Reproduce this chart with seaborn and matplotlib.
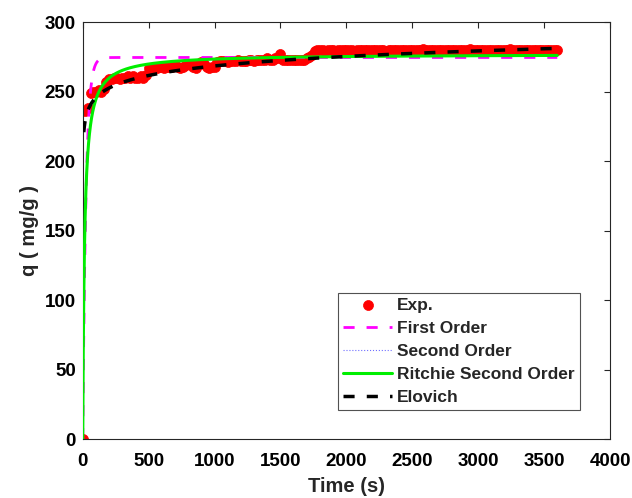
import numpy as np
import pandas as pd
import matplotlib
matplotlib.use("Agg")
import matplotlib.pyplot as plt
import seaborn as sns

# Experimental uptake, sampled every 20 s
time_s = np.arange(0, 3601, 20)
q_exp = [
    0, 236, 238, 249, 250, 250, 251, 250, 252, 257,      # 0-180 s
    259, 259, 260, 260, 259, 260, 260, 261, 260, 261,    # 200-380 s
    260, 260, 261, 260, 262, 267, 267, 268, 267, 268,    # 400-580 s
    268, 267, 268, 268, 268, 269, 268, 267, 268, 269,    # 600-780 s
    270, 270, 268, 267, 270, 271, 270, 268, 267, 268,    # 800-980 s
    268, 271, 272, 272, 272, 271, 272, 272, 272, 273,    # 1000-1180 s
    272, 272, 272, 273, 273, 272, 273, 273, 273, 273,    # 1200-1380 s
    274, 273, 273, 274, 274, 277, 273, 273, 273, 273,    # 1400-1580 s
    273, 273, 273, 273, 273, 274, 275, 276, 279, 280,    # 1600-1780 s
    280, 280, 279.5, 280, 280, 280, 279.5, 280, 280, 280,
    280, 280, 280, 279.5, 280, 280, 280, 280, 280, 280,
    280, 280, 280, 280, 280, 279.5, 280, 280, 280, 280,
    280, 280, 280, 280, 280, 280, 280, 280, 280, 280.5,
    280, 280, 280, 280, 280, 280, 280, 280, 280, 280,
    280, 280, 280, 280, 280, 280, 280, 280.5, 280, 280,
    280, 280, 280, 280, 280, 280, 280, 280, 280, 280,
    280, 280, 280.5, 280, 280, 280, 280, 280, 280, 280,
    280, 280, 280, 280, 280, 280, 280, 280, 280, 280,
    280,
]

# Fitted kinetic model parameters
qe_first, k_first = 274.5, 0.041            # pseudo-first order
qe_second, k_second = 277.0, 0.075 / 277.0  # pseudo-second order (k2, g/mg/s)
qe_ritchie, k_ritchie = 277.0, 0.075        # Ritchie second order
elovich_a, elovich_b = 200.3, 9.86          # q = a + b ln t

t_fit = np.linspace(0, 3600, 3601)
q_first = qe_first * (1 - np.exp(-k_first * t_fit))
q_second = qe_second ** 2 * k_second * t_fit / (1 + qe_second * k_second * t_fit)
q_ritchie = qe_ritchie * k_ritchie * t_fit / (1 + k_ritchie * t_fit)
t_elov = t_fit[t_fit >= 8]
q_elovich = elovich_a + elovich_b * np.log(t_elov)

df_exp = pd.DataFrame({"t": time_s, "q": q_exp})

sns.set_theme(style="white")
plt.rcParams["font.family"] = ["Liberation Sans", "DejaVu Sans"]
plt.rcParams["font.weight"] = "bold"

fig = plt.figure(figsize=(6.32, 4.98), dpi=100)
ax = fig.add_axes([0.1309, 0.1179, 0.8343, 0.8379])

sns.scatterplot(data=df_exp, x="t", y="q", ax=ax, color="#ff0000",
                edgecolor="#ff0000", s=52, linewidth=0.5, label="Exp.", zorder=2)
sns.lineplot(x=t_fit, y=q_first, ax=ax, color="#ff00ff", linewidth=2.0,
             linestyle=(0, (4, 4.3)), label="First Order", zorder=3)
sns.lineplot(x=t_fit, y=q_second, ax=ax, color="#7070ff", linewidth=0.8,
             linestyle=":", label="Second Order", zorder=3)
sns.lineplot(x=t_fit, y=q_ritchie, ax=ax, color="#00ee00", linewidth=2.2,
             label="Ritchie Second Order", zorder=4)
sns.lineplot(x=t_elov, y=q_elovich, ax=ax, color="black", linewidth=2.5,
             linestyle=(0, (3.2, 3.5)), label="Elovich", zorder=5)

ax.set_xlim(0, 4000)
ax.set_ylim(0, 300)
ax.set_xticks(np.arange(0, 4001, 500))
ax.set_yticks(np.arange(0, 301, 50))
ax.tick_params(direction="in", length=4.3, width=0.8, colors="#262626",
               labelcolor="black", labelsize=13.5,
               top=True, right=True)
ax.tick_params(axis="x", pad=10)
ax.tick_params(axis="y", pad=5)
for lbl in ax.get_xticklabels() + ax.get_yticklabels():
    lbl.set_fontweight("bold")
for sp in ax.spines.values():
    sp.set_color("#262626")
    sp.set_linewidth(0.8)

ax.set_xlabel("Time (s)", fontsize=14.5, fontweight="bold", labelpad=5)
ax.set_ylabel("q ( mg/g )", fontsize=14.5, fontweight="bold", labelpad=4)

leg = ax.legend(loc="lower right", bbox_to_anchor=(0.943, 0.070),
                borderaxespad=0, frameon=True, fancybox=False,
                prop={"size": 12.5, "weight": "bold"},
                handlelength=2.8, labelspacing=0.45, handletextpad=0.3,
                borderpad=0.3)
leg.get_frame().set_edgecolor("#262626")
leg.get_frame().set_linewidth(0.8)

fig.savefig("out.png", dpi=100)
